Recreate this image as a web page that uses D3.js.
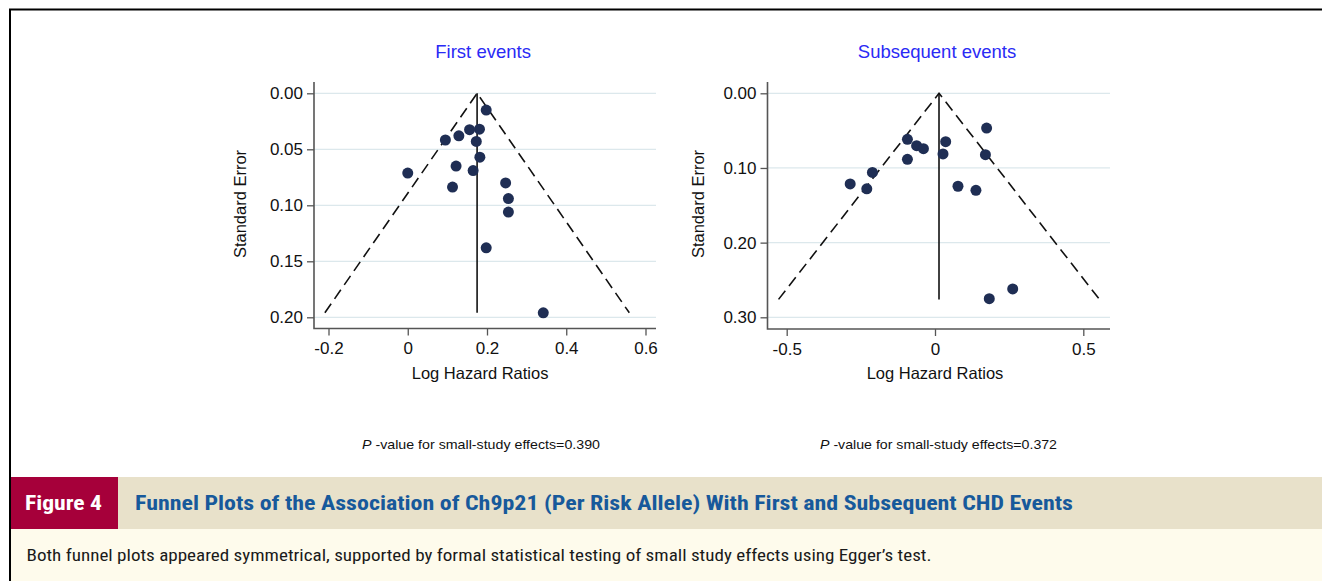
<!doctype html>
<html lang=en>
<head>
<meta charset=utf-8>
<title>Funnel plots Ch9p21</title>
<script src="https://d3js.org/d3.v7.min.js"></script>
<style>
  body { margin: 0; background: #fff; }
  svg text { font-family: "Liberation Sans", Arial, Helvetica, sans-serif; }
  .cap { font-family: "Liberation Sans Narrow", "Roboto Condensed", "Liberation Sans", Arial, sans-serif; }
</style>
</head>
<body>
<div id="container"></div>
<script>
// ---- data ----
var firstLogHR = [0.198, 0.156, 0.181, 0.129, 0.095, 0.173, 0.182, 0.122, 0.165, 0.000, 0.247, 0.113, 0.254, 0.254, 0.198, 0.342];
var firstSE    = [0.015, 0.0325, 0.032, 0.038, 0.0417, 0.043, 0.057, 0.065, 0.069, 0.0712, 0.080, 0.0837, 0.094, 0.106, 0.138, 0.196];
var subsLogHR  = [0.174, -0.093, 0.036, -0.062, -0.039, 0.027, 0.170, -0.093, -0.211, -0.286, -0.230, 0.0775, 0.138, 0.262, 0.183];
var subsSE     = [0.0465, 0.0616, 0.0648, 0.0701, 0.0741, 0.0812, 0.0822, 0.0884, 0.106, 0.1214, 0.128, 0.1245, 0.130, 0.262, 0.275];

var firstXTicks = [-0.2, 0, 0.2, 0.4, 0.6];
var firstYTicks = [0, 0.05, 0.10, 0.15, 0.20];
var subsXTicks  = [-0.5, 0, 0.5];
var subsYTicks  = [0, 0.10, 0.20, 0.30];

var panelTitles = ["First events", "Subsequent events"];
var pooledEst   = [0.175, 0.0135];   // funnel apex (pooled log HR)
var funnelSE    = [0.196, 0.276];    // depth of funnel
var pValues     = ["0.390", "0.372"];

var figLabel   = "Figure 4";
var figTitle   = "Funnel Plots of the Association of Ch9p21 (Per Risk Allele) With First and Subsequent CHD Events";
var figCaption = "Both funnel plots appeared symmetrical, supported by formal statistical testing of small study effects using Egger\u2019s test.";

var W = 1322, H = 581;
var svg = d3.select("#container").append("svg")
    .attr("width", W).attr("height", H)
    .attr("viewBox", "0 0 " + W + " " + H);

// panel layout
var panels = [
  { x: d3.scaleLinear().domain([-0.2, 0.6]).range([328.5, 645.5]),
    y: d3.scaleLinear().domain([0, 0.2]).range([93.3, 317.3]),
    left: 314, right: 656, top: 82, bottom: 328.5,
    xt: firstXTicks, yt: firstYTicks, yfmt: d3.format(".2f"),
    lx: firstLogHR, se: firstSE, ylabX: 246, pX: [362, 600] },
  { x: d3.scaleLinear().domain([-0.5, 0.5]).range([786.7, 1083.3]),
    y: d3.scaleLinear().domain([0, 0.3]).range([93.3, 317.3]),
    left: 767.5, right: 1110, top: 82, bottom: 329,
    xt: subsXTicks, yt: subsYTicks, yfmt: d3.format(".2f"),
    lx: subsLogHR, se: subsSE, ylabX: 704, pX: [820, 1057] }
];

panels.forEach(function(p, i) {
  var g = svg.append("g");

  // gridlines
  g.selectAll("line.grid").data(p.yt).enter().append("line")
    .attr("x1", p.left).attr("x2", p.right)
    .attr("y1", function(d) { return p.y(d); })
    .attr("y2", function(d) { return p.y(d); })
    .attr("stroke", "#dce8ec").attr("stroke-width", 1.2);

  // y axis
  var ya = g.append("g").attr("transform", "translate(" + p.left + ",0)")
    .call(d3.axisLeft(p.y).tickValues(p.yt).tickFormat(p.yfmt).tickSize(7).tickPadding(4));
  ya.select(".domain").remove();
  // x axis
  var xa = g.append("g").attr("transform", "translate(0," + p.bottom + ")")
    .call(d3.axisBottom(p.x).tickValues(p.xt)
      .tickFormat(function(d) { return d === 0 ? "0" : String(d); })
      .tickSize(7).tickPadding(4));
  xa.select(".domain").remove();
  [ya, xa].forEach(function(a) {
    a.selectAll("line").attr("stroke", "#555").attr("stroke-width", 1.3);
    a.selectAll("text").attr("fill", "#111").style("font-size", "17px");
  });
  xa.selectAll("text").attr("dy", "0.88em");

  // frame lines (left and bottom)
  g.append("path")
    .attr("d", "M" + p.left + "," + p.top + "V" + p.bottom + "H" + p.right)
    .attr("fill", "none").attr("stroke", "#555").attr("stroke-width", 1.6);

  // funnel
  var m = pooledEst[i], s = funnelSE[i];
  g.append("path")
    .attr("d", d3.line()([[p.x(m - 1.96 * s), p.y(s)], [p.x(m), p.y(0)], [p.x(m + 1.96 * s), p.y(s)]]))
    .attr("fill", "none").attr("stroke", "#111").attr("stroke-width", 1.6)
    .attr("stroke-dasharray", "11,6");
  g.append("line")
    .attr("x1", p.x(m)).attr("x2", p.x(m))
    .attr("y1", p.y(0)).attr("y2", p.y(s))
    .attr("stroke", "#111").attr("stroke-width", 1.6);

  // points
  g.selectAll("circle").data(p.lx).enter().append("circle")
    .attr("cx", function(d) { return p.x(d); })
    .attr("cy", function(d, j) { return p.y(p.se[j]); })
    .attr("r", 5.5).attr("fill", "#1f2e54");

  // titles
  g.append("text").text(panelTitles[i])
    .attr("x", p.x(m) + (i === 0 ? 6 : -2)).attr("y", 57.5)
    .attr("text-anchor", "middle").attr("fill", "#2a2af5")
    .style("font-size", "18.5px");
  g.append("text").text("Log Hazard Ratios")
    .attr("x", p.x(m) + (i === 0 ? 3 : -4)).attr("y", 379)
    .attr("text-anchor", "middle").attr("fill", "#111")
    .style("font-size", "16.5px");
  g.append("text").text("Standard Error")
    .attr("transform", "translate(" + p.ylabX + ",204) rotate(-90)")
    .attr("text-anchor", "middle").attr("fill", "#111")
    .style("font-size", "16.5px");

  // p-value note
  var pt = g.append("text")
    .attr("x", p.pX[0]).attr("y", 448.5)
    .attr("textLength", p.pX[1] - p.pX[0]).attr("lengthAdjust", "spacingAndGlyphs")
    .attr("fill", "#111").style("font-size", "13.5px");
  pt.append("tspan").text("P").style("font-style", "italic");
  pt.append("tspan").text(" -value for small-study effects=" + pValues[i]);
});

// caption band
svg.append("rect").attr("x", 10).attr("y", 477).attr("width", W - 10).attr("height", 52).attr("fill", "#e8e1ca");
svg.append("rect").attr("x", 10).attr("y", 477).attr("width", 108).attr("height", 52).attr("fill", "#a6003a");
svg.append("rect").attr("x", 10).attr("y", 529).attr("width", W - 10).attr("height", H - 529).attr("fill", "#fefbec");

svg.append("text").attr("class", "cap").text(figLabel)
  .attr("x", 25).attr("y", 509.5)
  .attr("textLength", 77).attr("lengthAdjust", "spacingAndGlyphs")
  .attr("fill", "#fff").style("font-weight", "bold").style("font-size", "20px");
svg.append("text").attr("class", "cap").text(figTitle)
  .attr("x", 135).attr("y", 509.5)
  .attr("textLength", 938).attr("lengthAdjust", "spacingAndGlyphs")
  .attr("fill", "#17599b").style("font-weight", "bold").style("font-size", "19.5px");
svg.append("text").attr("class", "cap").text(figCaption)
  .attr("x", 26.5).attr("y", 560.5)
  .attr("textLength", 905).attr("lengthAdjust", "spacingAndGlyphs")
  .attr("fill", "#1a1a1a").style("font-size", "16.5px");

// outer border (top and left)
svg.append("path").attr("d", "M10," + H + "V9.5H" + W)
  .attr("fill", "none").attr("stroke", "#000").attr("stroke-width", 2);
</script>
</body>
</html>
